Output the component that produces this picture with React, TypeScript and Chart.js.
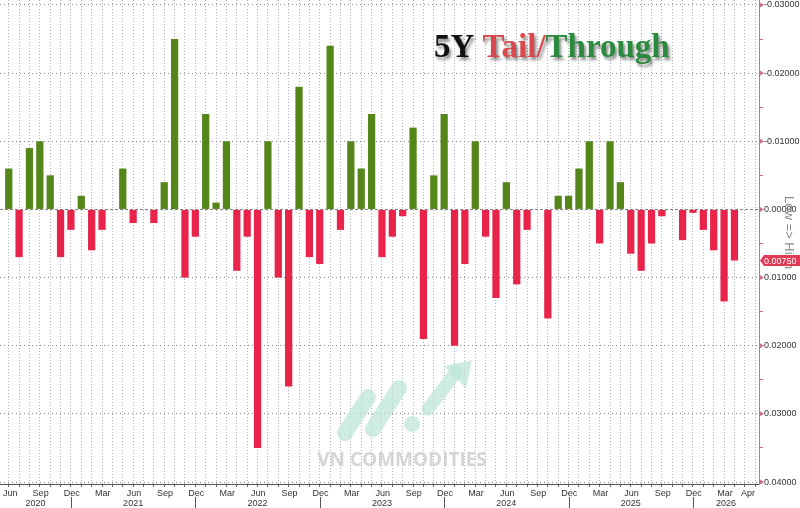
import { useEffect, useRef } from "react";
import { Chart, registerables } from "chart.js";

Chart.register(...registerables);

// Auction months (one bar per month), Jun 2020 .. Apr 2026
const categories = [
  "Jun 2020", "Jul 2020", "Aug 2020", "Sep 2020", "Oct 2020", "Nov 2020", "Dec 2020",
  "Jan 2021", "Feb 2021", "Mar 2021", "Apr 2021", "May 2021", "Jun 2021", "Jul 2021", "Aug 2021", "Sep 2021", "Oct 2021", "Nov 2021", "Dec 2021",
  "Jan 2022", "Feb 2022", "Mar 2022", "Apr 2022", "May 2022", "Jun 2022", "Jul 2022", "Aug 2022", "Sep 2022", "Oct 2022", "Nov 2022", "Dec 2022",
  "Jan 2023", "Feb 2023", "Mar 2023", "Apr 2023", "May 2023", "Jun 2023", "Jul 2023", "Aug 2023", "Sep 2023", "Oct 2023", "Nov 2023", "Dec 2023",
  "Jan 2024", "Feb 2024", "Mar 2024", "Apr 2024", "May 2024", "Jun 2024", "Jul 2024", "Aug 2024", "Sep 2024", "Oct 2024", "Nov 2024", "Dec 2024",
  "Jan 2025", "Feb 2025", "Mar 2025", "Apr 2025", "May 2025", "Jun 2025", "Jul 2025", "Aug 2025", "Sep 2025", "Oct 2025", "Nov 2025", "Dec 2025",
  "Jan 2026", "Feb 2026", "Mar 2026", "Apr 2026",
];

// Tail (+) / Through (-), in percentage points
const tailThrough = [
  -0.006, 0.007, -0.009, -0.010, -0.005, 0.007, 0.003,
  -0.002, 0.006, 0.003, 0, -0.006, 0.002, 0, 0.002, -0.004, -0.025, 0.010, 0.004,
  -0.014, -0.001, -0.010, 0.009, 0.004, 0.035, -0.010, 0.010, 0.026, -0.018, 0.007, 0.008,
  -0.024, 0.003, -0.010, -0.006, -0.014, 0.007, 0.004, 0.001, -0.012, 0.019, -0.005, -0.014,
  0.020, 0.008, -0.010, 0.004, 0.013, -0.004, 0.011, 0.003, 0, 0.016, -0.002, -0.002,
  -0.006, -0.010, 0.005, -0.010, -0.004, 0.0065, 0.009, 0.005, 0.001, 0, 0.0045, 0.0005,
  0.003, 0.006, 0.0135, 0.0075,
];

const yTickValues = [
  -0.03, -0.025, -0.02, -0.015, -0.01, -0.005, 0, 0.005, 0.01, 0.015, 0.02, 0.025, 0.03, 0.035, 0.04,
];
const quarterMonths = ["Mar", "Jun", "Sep", "Dec"];

const titleParts = [
  { text: "5Y ", color: "#111111" },
  { text: "Tail/", color: "#d9484c" },
  { text: "Through", color: "#2b8a3e" },
];
const sideLabel = "Low => High";
const watermarkText = "VN COMMODITIES";

const GREEN = "#55861a";
const RED = "#e8244b";
const AXIS_PINK = "#c9708e";
const SANS = '"Liberation Sans", Arial, sans-serif';

const isMajor = (v: number) => Math.abs(Math.round(v * 100) - v * 100) < 1e-6;
const fmt = (v: number) => {
  const r = Math.round(v * 100000) / 100000;
  return (Math.abs(r) < 1e-9 ? 0 : r).toFixed(5);
};

const decorPlugin = {
  id: "decor",
  beforeDatasetsDraw(chart: any) {
    const { ctx } = chart;
    ctx.save();
    // watermark logo
    ctx.strokeStyle = "rgba(185,228,212,0.7)";
    ctx.fillStyle = "rgba(185,228,212,0.7)";
    ctx.lineCap = "round";
    ctx.lineWidth = 16;
    ctx.beginPath();
    ctx.moveTo(345, 433);
    ctx.lineTo(368, 397);
    ctx.stroke();
    ctx.beginPath();
    ctx.moveTo(373, 429);
    ctx.lineTo(399, 388);
    ctx.stroke();
    ctx.beginPath();
    ctx.arc(412, 424, 8, 0, Math.PI * 2);
    ctx.fill();
    ctx.lineWidth = 13;
    ctx.beginPath();
    ctx.moveTo(428, 409);
    ctx.lineTo(456, 372);
    ctx.stroke();
    ctx.beginPath();
    ctx.moveTo(472, 360);
    ctx.lineTo(444, 366);
    ctx.lineTo(466, 388);
    ctx.closePath();
    ctx.fill();
    // watermark text
    ctx.font = 'bold 19px "Open Sans", sans-serif';
    ctx.fillStyle = "rgba(200,200,200,0.75)";
    ctx.textAlign = "center";
    ctx.textBaseline = "middle";
    ctx.fillText(watermarkText, 402, 461);
    ctx.restore();
  },
  afterDraw(chart: any) {
    const { ctx, chartArea } = chart;
    const x = chart.scales.x;
    const y = chart.scales.y;
    ctx.save();

    // x month labels
    ctx.font = `9px ${SANS}`;
    ctx.fillStyle = "#333";
    ctx.textBaseline = "middle";
    ctx.textAlign = "left";
    const n = categories.length;
    const decPixels: number[] = [];
    categories.forEach((c, i) => {
      const m = c.split(" ")[0];
      const last = i === n - 1;
      if (m === "Dec") decPixels.push(x.getPixelForValue(i));
      if (!quarterMonths.includes(m) && !last) return;
      const w = ctx.measureText(m).width;
      let left = x.getPixelForValue(i) - w / 2 + 0.8;
      if (i === 0) left = Math.max(left, chartArea.left + 3);
      if (last) left = chartArea.right - 4 - w;
      ctx.fillText(m, left, 494);
    });

    // year labels + separators
    const years: string[] = [];
    categories.forEach((c) => {
      const yr = c.split(" ")[1];
      if (!years.includes(yr)) years.push(yr);
    });
    const bounds = [chartArea.left, ...decPixels, chartArea.right];
    ctx.textAlign = "center";
    years.forEach((yr, k) => {
      if (k + 1 >= bounds.length) return;
      ctx.fillText(yr, (bounds[k] + bounds[k + 1]) / 2, 503.5);
    });
    ctx.strokeStyle = "#555";
    ctx.lineWidth = 1;
    decPixels.forEach((px) => {
      ctx.beginPath();
      ctx.moveTo(Math.round(px) + 0.5, 497);
      ctx.lineTo(Math.round(px) + 0.5, 508);
      ctx.stroke();
    });

    // arrows at major y ticks
    ctx.fillStyle = AXIS_PINK;
    yTickValues.filter(isMajor).forEach((v) => {
      const py = y.getPixelForValue(v);
      ctx.beginPath();
      ctx.moveTo(chartArea.right + 1, py - 2.5);
      ctx.lineTo(chartArea.right + 5, py);
      ctx.lineTo(chartArea.right + 1, py + 2.5);
      ctx.closePath();
      ctx.fill();
    });

    // rotated side label
    ctx.save();
    ctx.translate(789, 196);
    ctx.rotate(Math.PI / 2);
    ctx.font = `13px ${SANS}`;
    ctx.fillStyle = "#8c8c8c";
    ctx.textAlign = "left";
    ctx.textBaseline = "middle";
    ctx.fillText(sideLabel, 0, 0);
    ctx.restore();

    // last value box
    const lastVal = tailThrough[tailThrough.length - 1];
    const py = y.getPixelForValue(lastVal);
    const bx = chartArea.right + 1;
    ctx.fillStyle = "#e03a55";
    ctx.beginPath();
    ctx.moveTo(bx, py);
    ctx.lineTo(bx + 4, py - 5.5);
    ctx.lineTo(800, py - 5.5);
    ctx.lineTo(800, py + 5.5);
    ctx.lineTo(bx + 4, py + 5.5);
    ctx.closePath();
    ctx.fill();
    ctx.fillStyle = "#ffffff";
    ctx.font = `9px ${SANS}`;
    ctx.textAlign = "left";
    ctx.textBaseline = "middle";
    ctx.fillText(fmt(lastVal), chartArea.right + 5, py + 0.5);

    // title
    ctx.font = 'bold 33px "Liberation Serif", "Times New Roman", serif';
    ctx.textAlign = "left";
    ctx.textBaseline = "alphabetic";
    ctx.shadowColor = "rgba(0,0,0,0.45)";
    ctx.shadowOffsetX = 2;
    ctx.shadowOffsetY = 3;
    ctx.shadowBlur = 3;
    let tx = 434;
    titleParts.forEach((p) => {
      ctx.fillStyle = p.color;
      ctx.fillText(p.text, tx, 57);
      tx += ctx.measureText(p.text).width;
    });
    ctx.restore();
  },
};

export default function App() {
  const ref = useRef<HTMLCanvasElement | null>(null);

  useEffect(() => {
    if (!ref.current) return;
    const data = tailThrough.map((v, i) => ({ x: i, y: v }));
    const chart = new Chart(ref.current, {
      type: "bar",
      data: {
        datasets: [
          {
            data: data as any,
            backgroundColor: (c: any) => ((c.raw?.y ?? 0) < 0 ? GREEN : RED),
            borderWidth: 0,
            barPercentage: 0.7,
            categoryPercentage: 1,
          },
        ],
      },
      options: {
        responsive: false,
        animation: false,
        layout: { padding: 0 },
        plugins: { legend: { display: false }, tooltip: { enabled: false }, title: { display: false } },
        scales: {
          x: {
            type: "linear",
            min: -0.333,
            max: 71.86,
            bounds: "data",
            afterBuildTicks: (s: any) => {
              const t = [];
              for (let i = 0; i <= categories.length; i++) t.push({ value: i + 0.5 });
              s.ticks = t.filter((k) => k.value >= s.min && k.value <= s.max);
            },
            afterFit: (s: any) => {
              s.height = 24;
              s.paddingLeft = 0;
              s.paddingRight = 0;
            },
            ticks: { display: false },
            grid: {
              color: "rgba(140,140,140,0.7)",
              lineWidth: 1,
              drawTicks: true,
              tickLength: 3,
              tickColor: "#666",
              tickBorderDash: [],
            },
            border: { display: true, color: "#555", width: 1, dash: [1, 2] },
          },
          y: {
            type: "linear",
            position: "right",
            reverse: true,
            min: -0.03073,
            max: 0.04029,
            bounds: "data",
            afterBuildTicks: (s: any) => {
              s.ticks = yTickValues.map((v) => ({ value: v }));
            },
            afterFit: (s: any) => {
              s.width = 41;
              s.paddingTop = 0;
              s.paddingBottom = 0;
            },
            ticks: {
              autoSkip: false,
              padding: 1,
              color: "#333",
              font: { family: SANS, size: 9 },
              callback: (v: any) => (isMajor(Number(v)) ? fmt(Number(v)) : ""),
            },
            grid: {
              color: (c: any) =>
                c.tick && isMajor(c.tick.value) ? "rgba(110,110,110,0.85)" : "rgba(0,0,0,0)",
              lineWidth: 1,
              drawTicks: true,
              tickLength: 4,
              tickColor: AXIS_PINK,
              tickBorderDash: [],
            },
            border: {
              display: true,
              color: AXIS_PINK,
              width: 1,
              dash: (c: any) => (c.tick && Math.abs(c.tick.value) < 1e-9 ? [3, 2] : [1, 3]),
            },
          },
        },
      },
      plugins: [decorPlugin],
    });
    return () => chart.destroy();
  }, []);

  return (
    <div style={{ position: "fixed", left: 0, top: 0, width: 800, height: 508, background: "#fff" }}>
      <canvas ref={ref} width={800} height={508} />
    </div>
  );
}
